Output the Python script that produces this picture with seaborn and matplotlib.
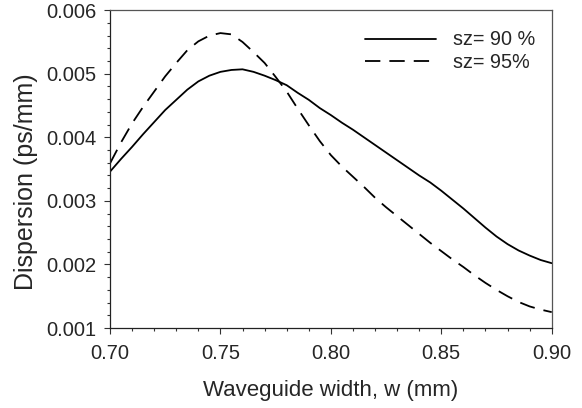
import matplotlib
matplotlib.use("Agg")
import matplotlib.pyplot as plt
import seaborn as sns
from matplotlib.ticker import MultipleLocator, FormatStrFormatter

# Dados (largura do guia de onda em mm)
largura = [0.700, 0.705, 0.710, 0.715, 0.720, 0.725, 0.730, 0.735, 0.740, 0.745,
           0.750, 0.755, 0.760, 0.765, 0.770, 0.775, 0.780, 0.785, 0.790, 0.795,
           0.800, 0.805, 0.810, 0.815, 0.820, 0.825, 0.830, 0.835, 0.840, 0.845,
           0.850, 0.855, 0.860, 0.865, 0.870, 0.875, 0.880, 0.885, 0.890, 0.895,
           0.900]
# Dispersão (ps/mm) para sz = 90 %
disp_90 = [0.00346, 0.00366, 0.00385, 0.00405, 0.00424, 0.00443, 0.00459, 0.00475,
           0.00488, 0.00497, 0.00503, 0.00506, 0.00507, 0.00503, 0.00497, 0.00490,
           0.00482, 0.00470, 0.00459, 0.00446, 0.00435, 0.00423, 0.00412, 0.00400,
           0.00388, 0.00376, 0.00364, 0.00352, 0.00340, 0.00329, 0.00316, 0.00302,
           0.00288, 0.00273, 0.00258, 0.00244, 0.00232, 0.00222, 0.00214, 0.00207,
           0.00202]
# Dispersão (ps/mm) para sz = 95 %
disp_95 = [0.00359, 0.00392, 0.00422, 0.00448, 0.00472, 0.00496, 0.00517, 0.00537,
           0.00551, 0.00560, 0.00564, 0.00562, 0.00550, 0.00534, 0.00517, 0.00495,
           0.00472, 0.00445, 0.00419, 0.00394, 0.00372, 0.00354, 0.00338, 0.00322,
           0.00305, 0.00290, 0.00276, 0.00262, 0.00248, 0.00234, 0.00221, 0.00208,
           0.00196, 0.00183, 0.00171, 0.00160, 0.00150, 0.00141, 0.00134, 0.00129,
           0.00125]
rotulos = ["sz= 90 %", "sz= 95%"]

sns.set_style("ticks")
plt.rcParams['font.family'] = ['Liberation Sans', 'DejaVu Sans']

fig = plt.figure(figsize=(5.82, 4.08), dpi=100)
ax = fig.add_axes([0.189, 0.196, 0.759, 0.779])

# Curvas
sns.lineplot(x=largura, y=disp_90, ax=ax, color='black', linewidth=1.3,
             label=rotulos[0])
sns.lineplot(x=largura, y=disp_95, ax=ax, color='black', linewidth=1.3,
             linestyle=(0, (8.5, 5)), label=rotulos[1])

# Eixos e marcações
ax.set_xlim(0.70, 0.90)
ax.set_ylim(0.001, 0.006)
ax.xaxis.set_major_locator(MultipleLocator(0.05))
ax.xaxis.set_minor_locator(MultipleLocator(0.01))
ax.yaxis.set_major_locator(MultipleLocator(0.001))
ax.yaxis.set_minor_locator(MultipleLocator(0.0002))
ax.xaxis.set_major_formatter(FormatStrFormatter('%.2f'))
ax.yaxis.set_major_formatter(FormatStrFormatter('%.3f'))

ax.tick_params(axis='both', which='major', direction='out', length=4.5,
               width=0.8, labelsize=14.5, color='#333333')
ax.tick_params(axis='x', which='major', pad=7)
ax.tick_params(axis='y', which='major', pad=5)
ax.tick_params(axis='both', which='minor', direction='out', length=2.5,
               width=0.8, color='#333333')

for lado in ['left', 'bottom']:
    ax.spines[lado].set_color('#222222')
    ax.spines[lado].set_linewidth(0.9)
for lado in ['top', 'right']:
    ax.spines[lado].set_visible(True)
    ax.spines[lado].set_color('#555555')
    ax.spines[lado].set_linewidth(0.9)

ax.set_xlabel('Waveguide width, w (mm)', fontsize=16, labelpad=12)
ax.set_ylabel('Dispersion (ps/mm)', fontsize=18)
ax.yaxis.set_label_coords(-0.163, 0.46)

# Legenda sem moldura
ax.legend(loc='upper right', frameon=False, fontsize=14.3, handlelength=3.6,
          handletextpad=0.85, labelspacing=0.2, bbox_to_anchor=(0.994, 0.98),
          borderaxespad=0.3)

plt.savefig('out.png', dpi=100)
